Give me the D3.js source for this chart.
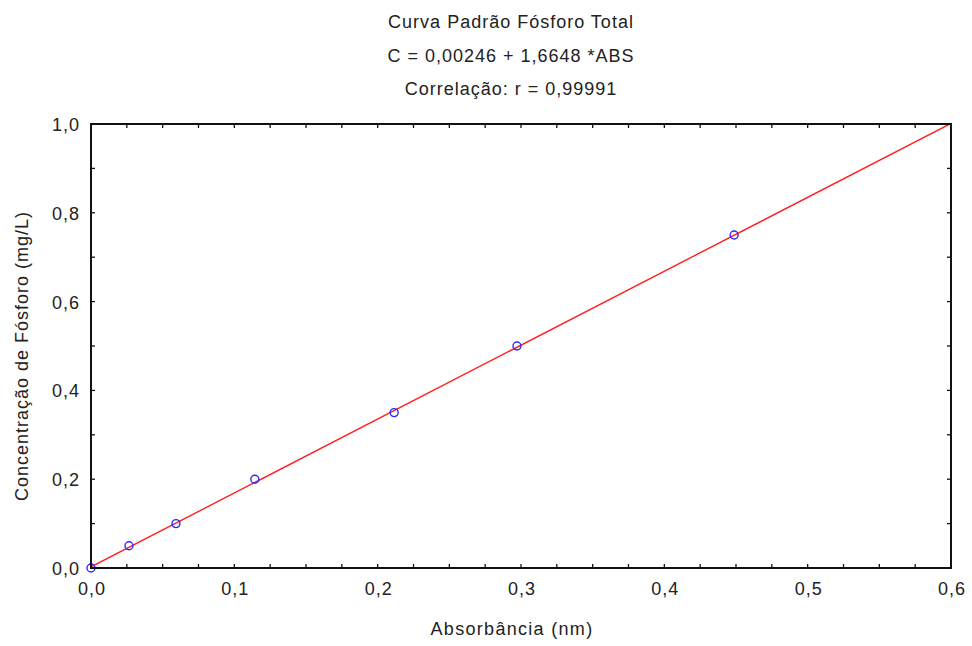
<!DOCTYPE html>
<html>
<head>
<meta charset="utf-8">
<script src="https://cdn.jsdelivr.net/npm/d3@7"></script>
<style>
  html, body { margin: 0; padding: 0; background: #fff; }
  svg { display: block; font-family: "Liberation Sans", Arial, sans-serif; }
</style>
</head>
<body>
<svg id="chart" width="972" height="646"></svg>
<script>
// Calibration data: absorbance vs phosphorus concentration
const absorbance = [0.0, 0.0265, 0.0593, 0.1143, 0.2115, 0.2972, 0.4487];
const concentration = [0.0, 0.05, 0.10, 0.20, 0.35, 0.50, 0.75];
const fitIntercept = 0.00246;
const fitSlope = 1.6648;
const xTicks = [0, 0.1, 0.2, 0.3, 0.4, 0.5, 0.6];
const yTicks = [0, 0.2, 0.4, 0.6, 0.8, 1.0];
const titleLines = ["Curva Padrão Fósforo Total", "C = 0,00246 + 1,6648 *ABS", "Correlação: r = 0,99991"];

const svg = d3.select("#chart");
const margin = { left: 91, top: 124, right: 21, bottom: 78 };
const W = 972, H = 646;
const iw = W - margin.left - margin.right;
const ih = H - margin.top - margin.bottom;

const x = d3.scaleLinear().domain([0, 0.6]).range([margin.left, margin.left + iw]);
const y = d3.scaleLinear().domain([0, 1.0]).range([margin.top + ih, margin.top]);
const fmt = d => d3.format(".1f")(d).replace(".", ",");
const ink = "#222";

// Titles
const titleBase = [28, 62, 95];
svg.selectAll("text.title").data(titleLines).join("text")
  .attr("class", "title")
  .attr("x", 511).attr("y", (d, i) => titleBase[i])
  .attr("text-anchor", "middle")
  .attr("font-size", 18).attr("letter-spacing", 1).attr("fill", ink)
  .text(d => d);

const clipId = "plotclip";
svg.append("clipPath").attr("id", clipId).append("rect")
  .attr("x", margin.left).attr("y", margin.top).attr("width", iw).attr("height", ih);

// Fitted line
const lineData = [0, 0.6].map(a => [a, fitIntercept + fitSlope * a]);
svg.append("path")
  .attr("clip-path", `url(#${clipId})`)
  .attr("d", d3.line().x(d => x(d[0])).y(d => y(d[1]))(lineData))
  .attr("stroke", "#ff2020").attr("stroke-width", 1.4).attr("fill", "none");

// Data points
svg.selectAll("circle.pt").data(absorbance.map((a, i) => [a, concentration[i]])).join("circle")
  .attr("class", "pt")
  .attr("cx", d => x(d[0])).attr("cy", d => y(d[1]))
  .attr("r", 4)
  .attr("fill", "none").attr("stroke", "#2a2aff").attr("stroke-width", 1.4);

// Inward ticks on all four sides
const xMinor = d3.range(0, 25).map(i => i * 0.025);
const yMinor = d3.range(0, 11).map(i => i * 0.1);
const tl = 4;
const g = svg.append("g").attr("stroke", "#111").attr("stroke-width", 1.3);
xMinor.forEach(v => {
  g.append("line").attr("x1", x(v)).attr("x2", x(v)).attr("y1", y(0)).attr("y2", y(0) - tl);
  g.append("line").attr("x1", x(v)).attr("x2", x(v)).attr("y1", y(1)).attr("y2", y(1) + tl);
});
yMinor.forEach(v => {
  g.append("line").attr("y1", y(v)).attr("y2", y(v)).attr("x1", x(0)).attr("x2", x(0) + tl);
  g.append("line").attr("y1", y(v)).attr("y2", y(v)).attr("x1", x(0.6)).attr("x2", x(0.6) - tl);
});

// Frame
svg.append("rect")
  .attr("x", margin.left).attr("y", margin.top).attr("width", iw).attr("height", ih)
  .attr("fill", "none").attr("stroke", "#111").attr("stroke-width", 2);

// Tick labels
svg.selectAll("text.xt").data(xTicks).join("text")
  .attr("class", "xt")
  .attr("x", d => x(d) + 1).attr("y", y(0) + 27)
  .attr("text-anchor", "middle").attr("font-size", 18).attr("letter-spacing", 1).attr("fill", ink)
  .text(fmt);
svg.selectAll("text.yt").data(yTicks).join("text")
  .attr("class", "yt")
  .attr("x", margin.left - 11).attr("y", d => y(d) + 7)
  .attr("text-anchor", "end").attr("font-size", 18).attr("letter-spacing", 1).attr("fill", ink)
  .text(fmt);

// Axis titles
svg.append("text")
  .attr("x", 512).attr("y", 635)
  .attr("text-anchor", "middle").attr("font-size", 18).attr("letter-spacing", 1.3).attr("fill", ink)
  .text("Absorbância (nm)");
svg.append("text")
  .attr("transform", `translate(28,356) rotate(-90)`)
  .attr("text-anchor", "middle").attr("font-size", 18).attr("letter-spacing", 1).attr("fill", ink)
  .text("Concentração de Fósforo (mg/L)");
</script>
</body>
</html>
